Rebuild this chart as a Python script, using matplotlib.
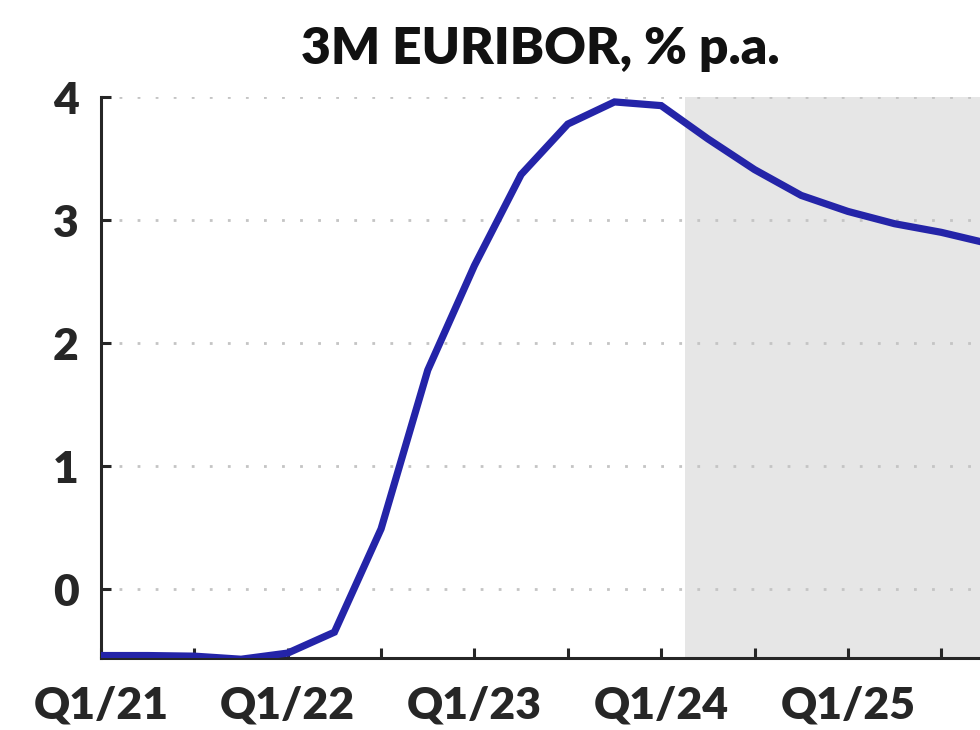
import matplotlib
matplotlib.use("Agg")
import matplotlib.pyplot as plt

# quarterly 3M EURIBOR, Q1/21 .. Q4/25
quarters = ["Q1/21", "Q2/21", "Q3/21", "Q4/21",
            "Q1/22", "Q2/22", "Q3/22", "Q4/22",
            "Q1/23", "Q2/23", "Q3/23", "Q4/23",
            "Q1/24", "Q2/24", "Q3/24", "Q4/24",
            "Q1/25", "Q2/25", "Q3/25", "Q4/25"]
euribor = [-0.54, -0.54, -0.545, -0.57,
           -0.52, -0.35, 0.49, 1.78,
           2.63, 3.37, 3.78, 3.96,
           3.93, 3.66, 3.41, 3.20,
           3.07, 2.97, 2.90, 2.81]
forecast_start = 12.5  # shaded forecast area starts mid Q1/24
yticks = [0, 1, 2, 3, 4]

text_color = "#262626"
line_color = "#2424A8"

plt.rcParams["font.family"] = ["Lato", "DejaVu Sans"]
plt.rcParams["font.weight"] = "bold"

fig = plt.figure(figsize=(9.8, 7.3), dpi=100)
ax = fig.add_axes([101 / 980, 72 / 730, 1 - 101 / 980, 561 / 730])

x = list(range(len(quarters)))
ax.axvspan(forecast_start, 30, color="#e6e6e6", zorder=0, lw=0)
for yv in yticks:
    ax.axhline(yv, color="#c4c4c4", lw=2, ls=(0, (1, 5.5)), zorder=1)
ax.plot(x, euribor, color=line_color, lw=5.2, zorder=3, solid_joinstyle="miter")

ax.set_xlim(0, 18.83)
ax.set_ylim(-0.56, 4.0)

ax.set_yticks(yticks)
ax.set_yticklabels([str(v) for v in yticks])
ax.set_xticks(x[::2])
ax.set_xticklabels([q if i % 4 == 0 else "" for i, q in enumerate(quarters)][::2])

for s in ("top", "right"):
    ax.spines[s].set_visible(False)
for s in ("left", "bottom"):
    ax.spines[s].set_color(text_color)
    ax.spines[s].set_linewidth(2.2)

ax.tick_params(axis="both", direction="in", length=7, width=2.2,
               color=text_color, labelcolor=text_color, labelsize=32)
ax.tick_params(axis="y", pad=16)
ax.tick_params(axis="x", pad=20)
for lbl in ax.get_xticklabels() + ax.get_yticklabels():
    lbl.set_fontweight("heavy")

ax.set_title("3M EURIBOR, % p.a.", fontsize=37, fontweight="heavy",
             color="#111111", pad=24)

fig.savefig("out.png", dpi=100)
